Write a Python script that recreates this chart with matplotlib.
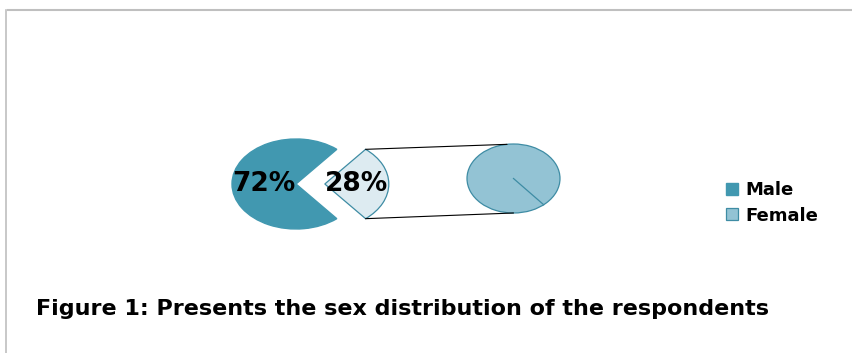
import matplotlib
matplotlib.use('Agg')
import matplotlib.pyplot as plt
import numpy as np
from matplotlib.patches import ConnectionPatch
from matplotlib.lines import Line2D

# data
labels = ['Male', 'Female']
shares = [72, 28]
caption = 'Figure 1: Presents the sex distribution of the respondents'

male_color = '#4198B0'
female_light = '#DDEBF1'
female_color = '#93C3D4'
edge_color = '#3E8CA4'

W, H = 853, 353
fig = plt.figure(figsize=(W / 100, H / 100), dpi=100)
fig.patch.set_facecolor('white')


def pie_axes(cx, cy, rx, ry, span):
    # axes whose unit radius maps to rx, ry pixels around (cx, cy) from top-left
    w, h = 2 * span * rx, 2 * span * ry
    ax = fig.add_axes([(cx - w / 2) / W, (H - cy - h / 2) / H, w / W, h / H])
    return ax


# main pie, the Female slice is pulled out to the right
ax1 = pie_axes(296, 184, 64, 45, 1.6)
start = shares[1] / 100 * 360 / 2
wedges, texts, autotexts = ax1.pie(shares, startangle=start, explode=[0, 0.45],
                                   colors=[male_color, female_light],
                                   autopct='%1.0f%%', pctdistance=0.5,
                                   textprops=dict(fontsize=19, fontweight='bold', color='black'))
wedges[0].set_edgecolor(male_color)
wedges[1].set_edgecolor(edge_color)
wedges[1].set_linewidth(0.9)
ax1.set_aspect('auto')
ax1.set_xlim(-1.6, 1.6)
ax1.set_ylim(-1.6, 1.6)
ax1.axis('off')

# secondary pie, only the Female share
sec_start = -49.5
ax2 = pie_axes(513.5, 178.5, 46.5, 34.5, 1.2)
sec, _ = ax2.pie([shares[1]], startangle=sec_start, colors=[female_color],
                 wedgeprops=dict(edgecolor=edge_color, linewidth=0.9))
# a full wedge has no radial edge, draw it
ax2.plot([0, np.cos(np.deg2rad(sec_start))], [0, np.sin(np.deg2rad(sec_start))],
         color=edge_color, linewidth=0.9)
ax2.set_aspect('auto')
ax2.set_xlim(-1.2, 1.2)
ax2.set_ylim(-1.2, 1.2)
ax2.axis('off')

# connector lines between the pulled slice and the secondary pie
half = np.deg2rad(start)
for sgn, ang_b in [(1, 98), (-1, 270)]:
    xa = 0.45 + np.cos(half)
    ya = sgn * np.sin(half)
    xb, yb = np.cos(np.deg2rad(ang_b)), np.sin(np.deg2rad(ang_b))
    con = ConnectionPatch(xyA=(xa, ya), coordsA=ax1.transData,
                          xyB=(xb, yb), coordsB=ax2.transData,
                          color='black', linewidth=0.8)
    fig.add_artist(con)

# legend
fig.legend([wedges[0], sec[0]], labels, loc='center left',
           bbox_to_anchor=(726 / W, 1 - 203 / H), frameon=False,
           borderpad=0, borderaxespad=0, handlelength=0.65, handleheight=0.65,
           handletextpad=0.45, labelspacing=0.4,
           prop=dict(size=13, weight='bold'))

# caption
fig.text(36 / W, 1 - 309 / H, caption, fontsize=16, fontweight='bold',
         family='DejaVu Sans', va='center', ha='left')

# frame lines of the chart area
fig.add_artist(Line2D([8 / W, 1], [1 - 9.5 / H, 1 - 9.5 / H], color='#BFBFBF', linewidth=1.5))
fig.add_artist(Line2D([6 / W, 6 / W], [1 - 9.5 / H, 0], color='#BFBFBF', linewidth=1.2))

fig.savefig('out.png', dpi=100)
